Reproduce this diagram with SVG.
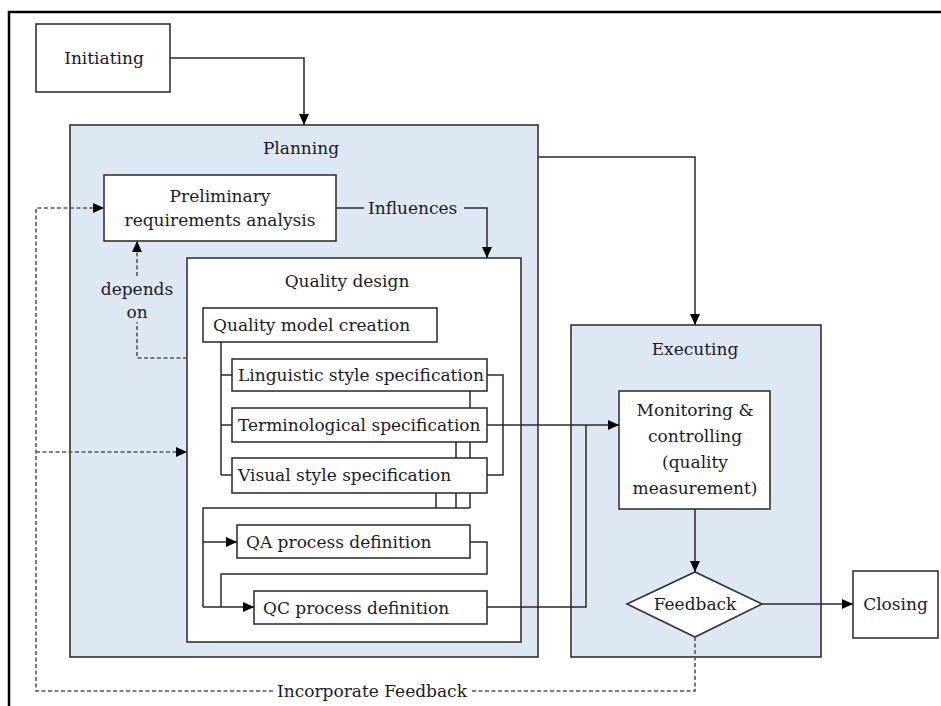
<svg xmlns="http://www.w3.org/2000/svg" width="941" height="706" viewBox="0 0 941 706">
<defs>
<style>
.phase{fill:#dee7f4;stroke:#333;stroke-width:1.6}
.box{fill:#fff;stroke:#333;stroke-width:1.6}
.ln{fill:none;stroke:#2a2a2a;stroke-width:1.5}
.dash{fill:none;stroke:#555;stroke-width:1.6;stroke-dasharray:4 2.5}
text{font-family:"DejaVu Serif",serif;font-size:17px;fill:#1a1a28}
.c{text-anchor:middle}
</style>
<marker id="ah" viewBox="0 0 11 10" refX="11" refY="5" markerWidth="11" markerHeight="10" markerUnits="userSpaceOnUse" orient="auto">
<path d="M0,0 L11,5 L0,10 z" fill="#000"/>
</marker>
</defs>
<rect width="941" height="706" fill="#fff"/>
<path d="M9,706 V12 H941" fill="none" stroke="#000" stroke-width="2.5"/>
<g id="planning">
<rect class="phase" x="70" y="125" width="468" height="532"/>
<text class="c" x="301" y="154">Planning</text>
</g>
<g id="executing">
<rect class="phase" x="571" y="325" width="250" height="332"/>
<text class="c" x="695" y="355">Executing</text>
</g>
<g id="initiating">
<rect class="box" x="36" y="24" width="134" height="68"/>
<text class="c" x="104" y="64">Initiating</text>
</g>
<g id="preliminary">
<rect class="box" x="104" y="175" width="232" height="66"/>
<text class="c" x="220" y="202">Preliminary</text>
<text class="c" x="220" y="226">requirements analysis</text>
</g>
<g id="quality-design">
<rect class="box" x="187" y="258" width="334" height="384"/>
<text class="c" x="347" y="287">Quality design</text>
</g>
<g id="quality-model">
<rect class="box" x="203" y="308" width="234" height="34"/>
<text x="213" y="331">Quality model creation</text>
</g>
<g id="linguistic">
<rect class="box" x="232" y="359" width="255" height="32"/>
<text x="238" y="381">Linguistic style specification</text>
</g>
<g id="terminological">
<rect class="box" x="232" y="408" width="255" height="34"/>
<text x="238" y="431">Terminological specification</text>
</g>
<g id="visual">
<rect class="box" x="232" y="458" width="255" height="35"/>
<text x="238" y="481">Visual style specification</text>
</g>
<g id="qa">
<rect class="box" x="237" y="525" width="233" height="33"/>
<text x="246" y="548">QA process definition</text>
</g>
<g id="qc">
<rect class="box" x="254" y="591" width="233" height="33"/>
<text x="263" y="614">QC process definition</text>
</g>
<g id="monitoring">
<rect class="box" x="619" y="391" width="151" height="118"/>
<text class="c" x="695" y="416">Monitoring &amp;</text>
<text class="c" x="695" y="442">controlling</text>
<text class="c" x="695" y="468">(quality</text>
<text class="c" x="695" y="494">measurement)</text>
</g>
<g id="feedback">
<path class="box" d="M627,604 L695,572 L762,604 L695,637 Z"/>
<text class="c" x="695" y="610">Feedback</text>
</g>
<g id="closing">
<rect class="box" x="853" y="571" width="85" height="67"/>
<text class="c" x="895.5" y="610">Closing</text>
</g>

<g id="connectors">
<path class="ln" d="M170,58 H304 V125" marker-end="url(#ah)"/>
<path class="ln" d="M538,157 H695 V325" marker-end="url(#ah)"/>
<path class="ln" d="M336,208 H364"/>
<text x="368" y="214">Influences</text>
<path class="ln" d="M464,208 H487 V258" marker-end="url(#ah)"/>
<path class="ln" d="M221,342 V475 M221,375 H232 M221,425 H232 M221,475 H232"/>
<path class="ln" d="M487,375 H503 V475 H487"/>
<path class="ln" d="M470,391 V408 M456,442 V458 M470,442 V458"/>
<path class="ln" d="M436,493 V508 M456,493 V508 M470,493 V508 M470,508 H203 V607"/>
<path class="ln" d="M203,542 H237" marker-end="url(#ah)"/>
<path class="ln" d="M470,542 H487 V574 H221 V607"/>
<path class="ln" d="M203,607 H254" marker-end="url(#ah)"/>
<path class="ln" d="M487,425 H619" marker-end="url(#ah)"/>
<path class="ln" d="M487,607 H586 V425"/>
<path class="ln" d="M695,509 V572" marker-end="url(#ah)"/>
<path class="ln" d="M762,604 H853" marker-end="url(#ah)"/>
<path class="dash" d="M187,358 H137 V322"/>
<path class="dash" d="M137,276 V241" marker-end="url(#ah)"/>
<text class="c" x="137" y="295">depends</text>
<text class="c" x="137" y="318">on</text>
<path class="dash" d="M695,637 V691 H472"/>
<text x="277" y="697">Incorporate Feedback</text>
<path class="dash" d="M273,691 H36 V208 H104" marker-end="url(#ah)"/>
<path class="dash" d="M36,452 H187" marker-end="url(#ah)"/>
</g>
</svg>
